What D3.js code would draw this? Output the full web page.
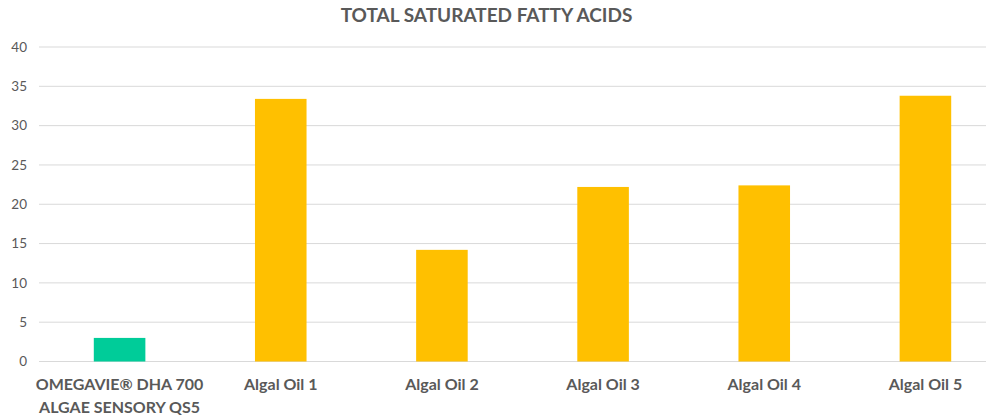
<!DOCTYPE html>
<html>
<head>
<meta charset="utf-8">
<script src="https://cdn.jsdelivr.net/npm/d3@7"></script>
<style>
  body { margin: 0; background: #fff; }
  #chart { width: 986px; height: 417px; overflow: hidden; }
  .tick text { font-family: Lato, sans-serif; }
</style>
</head>
<body>
<div id="chart"></div>
<script>
// chart data
const categories = ["OMEGAVIE® DHA 700|ALGAE SENSORY QS5", "Algal Oil 1", "Algal Oil 2", "Algal Oil 3", "Algal Oil 4", "Algal Oil 5"];
const values = [3.0, 33.4, 14.2, 22.2, 22.4, 33.8];
const barColors = ["#00CC99", "#FFC000", "#FFC000", "#FFC000", "#FFC000", "#FFC000"];
const yTicks = [0, 5, 10, 15, 20, 25, 30, 35, 40];
const title = "TOTAL SATURATED FATTY ACIDS";

const width = 986, height = 417;
const margin = { left: 39, top: 47, bottom: 361.5 };
const plotRight = 1006; // plot runs past the cropped right edge

const svg = d3.select("#chart").append("svg")
  .attr("width", width)
  .attr("height", height);

const x = d3.scaleBand()
  .domain(categories)
  .range([margin.left, plotRight])
  .paddingInner(0.68)
  .paddingOuter(0.34);

const y = d3.scaleLinear()
  .domain([0, 40])
  .range([margin.bottom, margin.top]);

// grid lines
svg.append("g")
  .selectAll("line")
  .data(yTicks)
  .enter().append("line")
    .attr("x1", margin.left)
    .attr("x2", plotRight)
    .attr("y1", d => y(d))
    .attr("y2", d => y(d))
    .attr("stroke", "#d9d9d9")
    .attr("stroke-width", 1);

// y axis labels
const yAxis = d3.axisLeft(y).tickValues(yTicks).tickSize(0).tickPadding(12);
svg.append("g")
  .attr("transform", `translate(${margin.left},0)`)
  .call(yAxis)
  .call(g => g.select(".domain").remove())
  .call(g => g.selectAll("text")
    .attr("fill", "#595959")
    .style("font-size", "13.5px"));

// bars
svg.append("g")
  .selectAll("rect")
  .data(values)
  .enter().append("rect")
    .attr("x", (d, i) => x(categories[i]))
    .attr("width", x.bandwidth())
    .attr("y", d => y(d))
    .attr("height", d => y(0) - y(d))
    .attr("fill", (d, i) => barColors[i]);

// x axis labels (multi-line)
const xAxis = d3.axisBottom(x).tickSize(0).tickFormat("");
const xg = svg.append("g")
  .attr("transform", `translate(0,${margin.bottom})`)
  .call(xAxis)
  .call(g => g.select(".domain").remove());

xg.selectAll(".tick").each(function(d) {
  const lines = d.split("|");
  const t = d3.select(this).append("text")
    .attr("text-anchor", "middle")
    .attr("fill", "#595959")
    .style("font-family", "Lato, sans-serif")
    .style("font-weight", "bold")
    .style("font-size", "16px");
  lines.forEach((l, i) => {
    t.append("tspan")
      .attr("x", 0)
      .attr("y", 28.5 + i * 23)
      .text(l);
  });
});

// title
svg.append("text")
  .attr("x", 486.5)
  .attr("y", 22)
  .attr("text-anchor", "middle")
  .attr("fill", "#595959")
  .style("font-family", "Lato, sans-serif")
  .style("font-weight", "bold")
  .style("font-size", "19px")
  .text(title);
</script>
</body>
</html>
